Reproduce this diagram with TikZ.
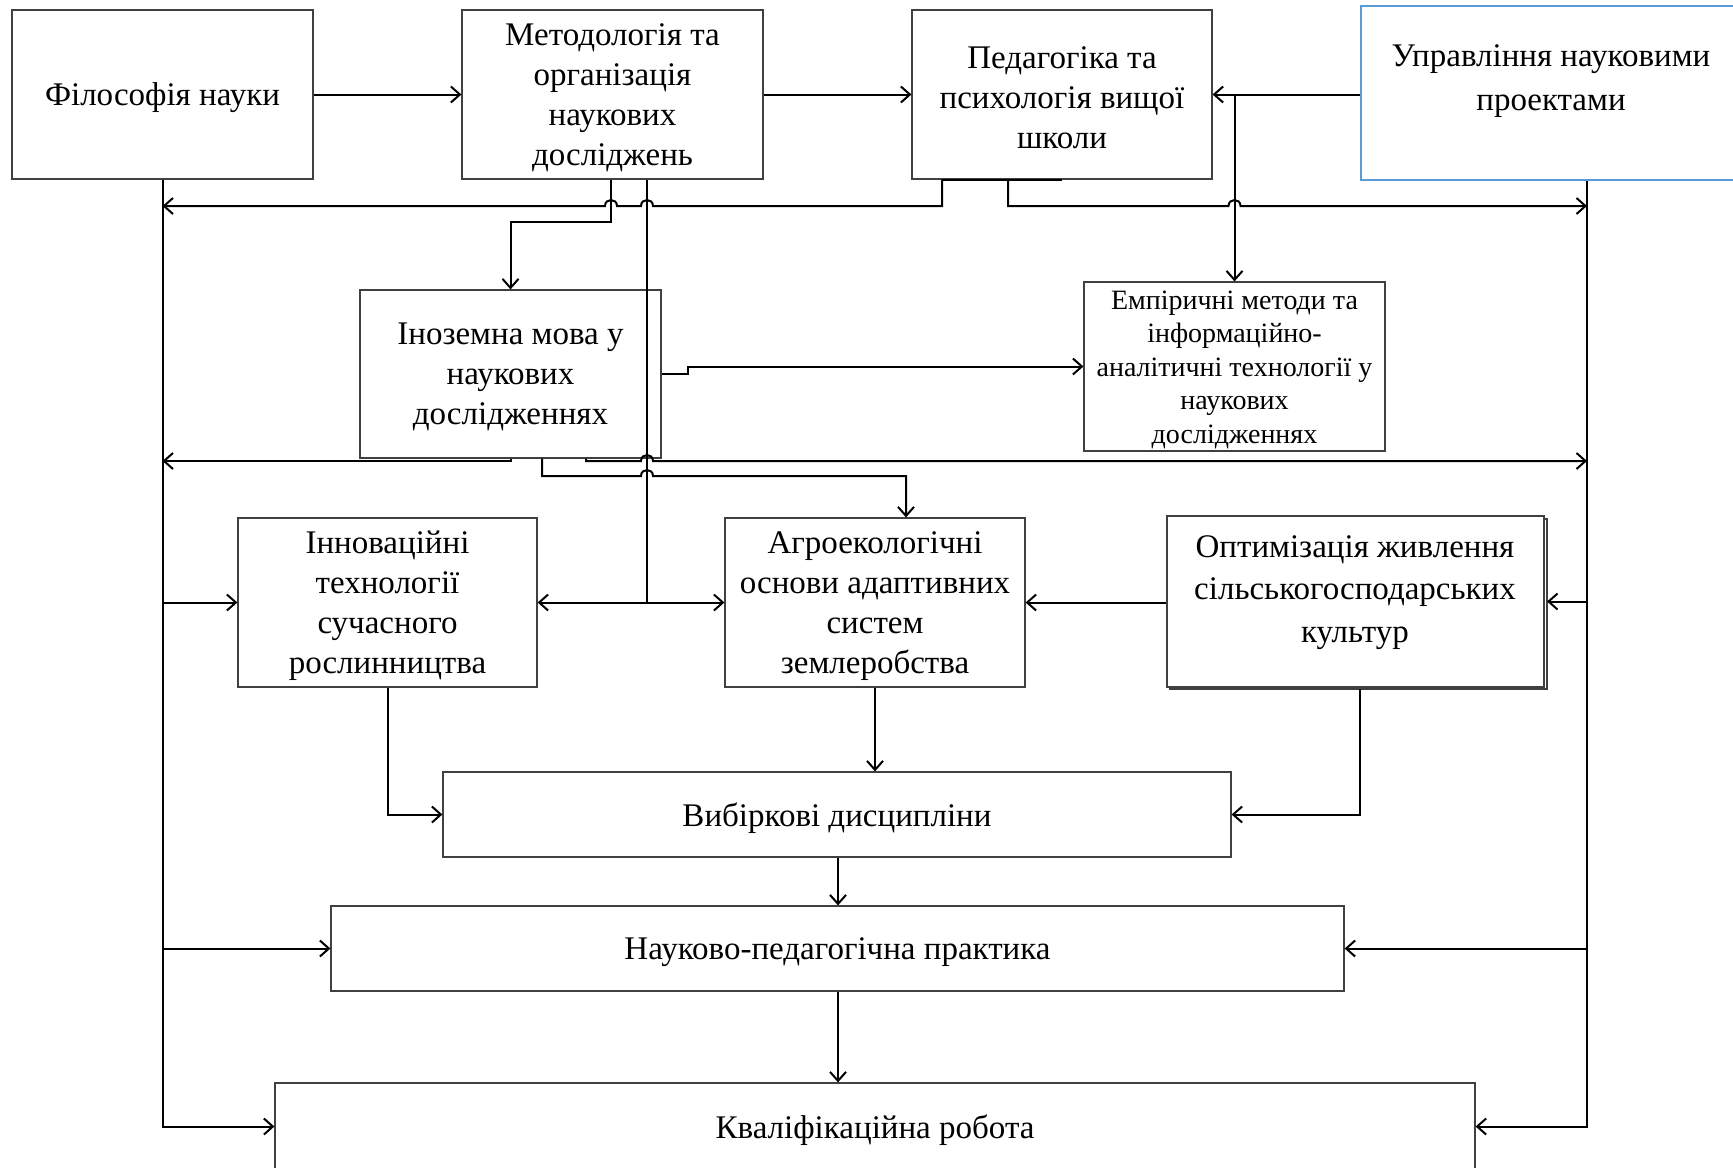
\documentclass[tikz,border=0pt]{standalone}
\usepackage{fontspec}
\setmainfont{Liberation Serif}
\usetikzlibrary{arrows.meta}
\definecolor{wordblue}{RGB}{91,155,213}
\newcommand\fmain{\fontsize{16.5}{20}\selectfont}
\newcommand\femp{\fontsize{14}{16.75}\selectfont}
\newcommand\fupr{\fontsize{16.5}{22}\selectfont}
\newcommand\fopt{\fontsize{16.5}{21.25}\selectfont}
\def\LB{162.5}
\def\RB{1587}
\begin{document}
\begin{tikzpicture}[x=0.5pt,y=-0.5pt,
 box/.style={draw=black!75, line width=0.6pt, inner sep=0pt},
 txt/.style={inner sep=0pt, align=center, font=\fmain, yshift=-1.6pt},
 wire/.style={line width=1pt, line join=miter},
 arr/.style={wire, -{Straight Barb[length=4.5pt,width=8pt]}},
]
\useasboundingbox (0,0) rectangle (1733,1167);
\fill[white] (0,0) rectangle (1733,1167);

% boxes
\node[box, minimum width=150.5pt, minimum height=84.5pt] (fil) at (162.5,94.5) {};
\node[txt] (filt) at (fil.center) {Філософія науки};
\node[box, minimum width=150.5pt, minimum height=84.5pt] (met) at (612.5,94.5) {};
\node[txt] (mett) at (met.center) {Методологія та\\організація\\наукових\\досліджень};
\node[box, minimum width=150pt, minimum height=84.5pt] (ped) at (1062,94.5) {};
\node[txt] (pedt) at (ped.center) {Педагогіка та\\психологія вищої\\школи};
\node[draw=wordblue, line width=1.2pt, minimum width=190pt, minimum height=87pt, inner sep=0pt] (upr) at (1551,93) {};
\node[txt, font=\fupr] (uprt) at (1551,78) {Управління науковими\\проектами};
\node[box, minimum width=150.5pt, minimum height=84pt] (ino) at (510.5,374) {};
\node[txt] (inot) at (ino.center) {Іноземна мова у\\наукових\\дослідженнях};
\node[box, minimum width=150.5pt, minimum height=84.5pt] (emp) at (1234.5,366.5) {};
\node[txt, font=\femp] (empt) at (emp.center) {Емпіричні методи та\\інформаційно-\\аналітичні технології у\\наукових\\дослідженнях};
\node[box, minimum width=149.5pt, minimum height=84.5pt] (inn) at (387.5,602.5) {};
\node[txt] (innt) at (inn.center) {Інноваційні\\технології\\сучасного\\рослинництва};
\node[box, minimum width=150pt, minimum height=84.5pt] (agr) at (875,602.5) {};
\node[txt] (agrt) at (agr.center) {Агроекологічні\\основи адаптивних\\систем\\землеробства};
\draw[black!75, line width=0.6pt] (1170,519) rectangle (1547,689);
\node[box, fill=white, minimum width=188.5pt, minimum height=85.5pt] (opt) at (1355.5,601.5) {};
\node[txt, font=\fopt] (optt) at (1355,589) {Оптимізація живлення\\сільськогосподарських\\культур};
\node[box, minimum width=394pt, minimum height=42.5pt] (vyb) at (837,814.5) {};
\node[txt] (vybt) at (vyb.center) {Вибіркові дисципліни};
\node[box, minimum width=506.5pt, minimum height=42.5pt] (nau) at (837.5,948.5) {};
\node[txt] (naut) at (nau.center) {Науково-педагогічна практика};
\node[box, minimum width=600pt, minimum height=43.5pt] (kva) at (875,1126.5) {};
\node[txt] (kvat) at (kva.center) {Кваліфікаційна робота};

% top row
\draw[arr] (fil.east) -- (met.west);
\draw[arr] (met.east) -- (ped.west);
\draw[arr] (upr.west |- ped.east) -- (ped.east);
\draw[arr] (emp.north |- ped.east) -- (emp.north);

% bus at 206
\draw[arr] (942,0 |- ped.south) -- (942,206) -- (653,206) .. controls (653,198) and (641,198) .. (641,206) -- (617,206) .. controls (617,198) and (605,198) .. (605,206) -- (\LB,206);
\draw[arr] (1008,0 |- ped.south) -- (1008,206) -- (1228.5,206) .. controls (1228.5,198) and (1240.5,198) .. (1240.5,206) -- (\RB,206);
\draw[wire] (942,0 |- ped.south) -- (1062,0 |- ped.south);

% from Methodology
\draw[arr] (611,0 |- met.south) -- (611,222) -- (ino.north |- 0,222) -- (ino.north);
\draw[wire] (647,0 |- met.south) -- (647,602.5);
\draw[arr] (647,602.5) -- (inn.east);
\draw[arr] (647,602.5) -- (agr.west);

% left bus
\draw[arr] (fil.south) -- (fil.south |- kva.west) -- (kva.west);
\draw[arr] (fil.south |- inn.west) -- (inn.west);
\draw[arr] (fil.south |- nau.west) -- (nau.west);

% right bus
\draw[arr] (\RB,0 |- upr.south) -- (\RB,0 |- kva.east) -- (kva.east);
\draw[arr] (\RB,0 |- opt.east) -- (1547,601.5);
\draw[arr] (\RB,0 |- nau.east) -- (nau.east);

% from foreign language
\draw[arr] (511,0 |- ino.south) -- (511,461) -- (\LB,461);
\draw[arr] (586,0 |- ino.south) -- (586,461) -- (641,461) .. controls (641,453) and (653,453) .. (653,461) -- (\RB,461);
\draw[arr] (542,0 |- ino.south) -- (542,476) -- (641,476) .. controls (641,468) and (653,468) .. (653,476) -- (906,476) -- (906,0 |- agr.north);
\draw[arr] (ino.east) -- (688,374) -- (688,366.5) -- (emp.west);

% lower part
\draw[arr] (opt.west |- agr.east) -- (agr.east);
\draw[arr] (1360,689) -- (1360,0 |- vyb.east) -- (vyb.east);
\draw[arr] (388,0 |- inn.south) -- (388,0 |- vyb.west) -- (vyb.west);
\draw[arr] (agr.south) -- (agr.south |- vyb.north);
\draw[arr] (838,0 |- vyb.south) -- (838,0 |- nau.north);
\draw[arr] (838,0 |- nau.south) -- (838,0 |- kva.north);
\end{tikzpicture}
\end{document}
